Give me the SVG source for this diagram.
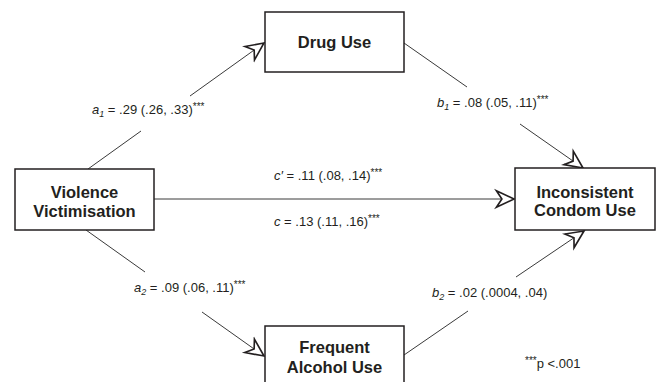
<svg xmlns="http://www.w3.org/2000/svg" width="657" height="382" viewBox="0 0 657 382">
<defs>
<style>
.box{fill:#fff;stroke:#231f20;stroke-width:1.5}
.bl{font-family:"Liberation Sans",Arial,sans-serif;font-weight:bold;font-size:16.5px;fill:#231f20;text-anchor:middle}
.lbl{font-family:"Liberation Sans",Arial,sans-serif;font-size:13px;fill:#231f20}
.ln{stroke:#3a3a3a;stroke-width:1;fill:none}
.it{font-style:italic}
.sm{font-size:9px}
.st{font-size:10px}
</style>
<marker id="arr" markerUnits="userSpaceOnUse" markerWidth="22" markerHeight="22" viewBox="-18 -10 20 20" refX="0" refY="0" orient="auto">
<path d="M0,0 L-16,-7.5 L-11,0 L-16,7.5 Z" fill="#fff" stroke="#231f20" stroke-width="1.5" stroke-linejoin="miter"/>
</marker>
</defs>
<rect width="657" height="382" fill="#fff"/>
<g id="connectors">
<line class="ln" x1="88" y1="169" x2="141" y2="131"/>
<line class="ln" x1="190" y1="96" x2="264" y2="43" marker-end="url(#arr)"/>
<line class="ln" x1="404" y1="43" x2="467" y2="87"/>
<line class="ln" x1="520" y1="124" x2="583" y2="168" marker-end="url(#arr)"/>
<line class="ln" x1="154" y1="199" x2="514" y2="199" marker-end="url(#arr)"/>
<line class="ln" x1="86" y1="230" x2="145" y2="272"/>
<line class="ln" x1="202" y1="312" x2="264" y2="356" marker-end="url(#arr)"/>
<line class="ln" x1="404" y1="355" x2="468" y2="311"/>
<line class="ln" x1="516" y1="277" x2="584" y2="231" marker-end="url(#arr)"/>
</g>
<g id="labels">
<text class="lbl" x="92" y="114"><tspan class="it">a</tspan><tspan class="it sm" dy="3">1</tspan><tspan dy="-3"> = .29 (.26, .33)</tspan><tspan class="st" dy="-4">***</tspan></text>
<text class="lbl" x="437" y="107"><tspan class="it">b</tspan><tspan class="it sm" dy="3">1</tspan><tspan dy="-3"> = .08 (.05, .11)</tspan><tspan class="st" dy="-4">***</tspan></text>
<text class="lbl" x="274" y="180"><tspan class="it">c′</tspan><tspan> = .11 (.08, .14)</tspan><tspan class="st" dy="-4">***</tspan></text>
<text class="lbl" x="274" y="226"><tspan class="it">c</tspan><tspan> = .13 (.11, .16)</tspan><tspan class="st" dy="-4">***</tspan></text>
<text class="lbl" x="134" y="292"><tspan class="it">a</tspan><tspan class="it sm" dy="3">2</tspan><tspan dy="-3"> = .09 (.06, .11)</tspan><tspan class="st" dy="-4">***</tspan></text>
<text class="lbl" x="432" y="297"><tspan class="it">b</tspan><tspan class="it sm" dy="3">2</tspan><tspan dy="-3"> = .02 (.0004, .04)</tspan></text>
<text class="lbl" x="525" y="368"><tspan class="st" dy="-4">***</tspan><tspan dy="4">p &lt;.001</tspan></text>
</g>
<g id="violence">
<rect class="box" x="15" y="169" width="139" height="61"/>
<text class="bl" x="84.5" y="197.5">Violence</text>
<text class="bl" x="84.5" y="216.5">Victimisation</text>
</g>
<g id="drug">
<rect class="box" x="265" y="12" width="139" height="60"/>
<text class="bl" x="334.5" y="48">Drug Use</text>
</g>
<g id="condom">
<rect class="box" x="515" y="168" width="140" height="62"/>
<text class="bl" x="585" y="197.5">Inconsistent</text>
<text class="bl" x="585" y="216">Condom Use</text>
</g>
<g id="alcohol">
<rect class="box" x="265" y="326" width="139" height="70"/>
<text class="bl" x="334.5" y="353">Frequent</text>
<text class="bl" x="334.5" y="373">Alcohol Use</text>
</g>
</svg>
